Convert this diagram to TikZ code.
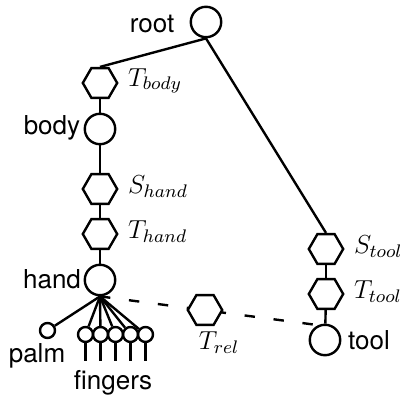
\documentclass[tikz,border=0pt]{standalone}
\usepackage{fix-cm}
\usepackage{amsmath}
\usepackage{fontspec}
\setmainfont{TeX Gyre Heros}
\usetikzlibrary{shapes.geometric}

\tikzset{
  joint/.style={circle, draw, line width=1.15pt, minimum size=14.6pt, inner sep=0pt},
  tip/.style={circle, draw, line width=1.15pt, minimum size=7.2pt, inner sep=0pt},
  hexa/.style={regular polygon, regular polygon sides=6, draw, fill=white, line width=1.15pt, minimum size=16.5pt, inner sep=0pt},
  link/.style={line width=1.15pt},
}

\begin{document}
\begin{tikzpicture}[x=0.48pt, y=-0.48pt, font=\fontsize{12.5}{15}\selectfont]
			\useasboundingbox (0, 0) rectangle (400, 398);
			% frames
			\node at (206, 22) [joint] (root) {};
			\node at (100, 83) [hexa, label={[label distance=1pt, yshift=1pt]right:$T_{body}$}] (tbody) {};
			\node at (100, 129) [joint] (body) {};
			\node at (100, 189) [hexa, label={[label distance=1pt, yshift=1pt]right:$S_{hand}$}] (shand) {};
			\node at (100, 234) [hexa, label={[label distance=1pt, yshift=1pt]right:$T_{hand}$}] (thand) {};
			\node at (100, 280) [joint] (hand) {};
			\node at (326, 249) [hexa, label={[label distance=1pt, yshift=1pt]right:$S_{tool}$}] (stool) {};
			\node at (326, 294) [hexa, label={[label distance=1pt, yshift=1pt]right:$T_{tool}$}] (ttool) {};
			\node at (325, 340) [joint] (tool) {};
			\node at (47.5, 330.5) [tip] (palm) {};
			\foreach \i/\x in {1/85.5, 2/100.5, 3/115.5, 4/130.5, 5/145.5} {
				\node at (\x, 334.5) [tip] (f\i) {};
				\coordinate (fend\i) at (\x, 361);
			}
			% names
			\node at (152, 24) [] (rootname) {root};
			\node at (52, 128) [] (bodyname) {body};
			\node at (52, 279) [] (handname) {hand};
			\node at (369, 340) [] (toolname) {tool};
			\node at (37, 356) [] (palmname) {palm};
			\node at (113, 383) [] (fingersname) {fingers};
			% links
			\draw [link] (root.south) -- (tbody.north);
			\draw [link] (root.south) -- (stool.north);
			\draw [link] (tbody) -- (body);
			\draw [link] (body) -- (shand);
			\draw [link] (shand) -- (thand);
			\draw [link] (thand) -- (hand);
			\draw [link] (stool) -- (ttool);
			\draw [link] (ttool) -- (tool);
			\draw [link] (hand.south) -- (palm);
			\foreach \i in {1, ..., 5} {
				\draw [link] (hand.south) -- (f\i);
				\draw [link] (f\i) -- (fend\i);
			}
			\draw [link, dash pattern=on 5pt off 9pt] (hand.south) -- (tool.115);
			\node at (205, 310) [hexa] (trel) {};
			\node at (219, 343) [] (trelname) {$T_{rel}$};
		\end{tikzpicture}
\end{document}
